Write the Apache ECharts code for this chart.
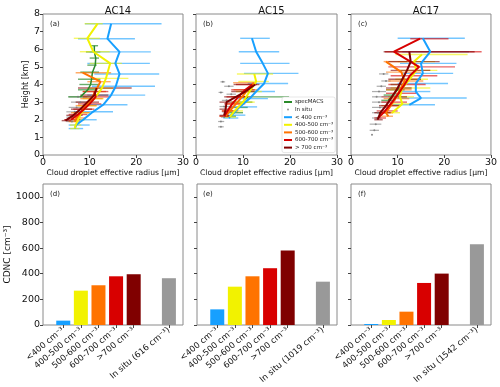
<!DOCTYPE html>
<html>
<head>
<meta charset="utf-8">
<script src="https://cdn.jsdelivr.net/npm/echarts@6/dist/echarts.min.js"></script>
<style>
  html, body { margin: 0; padding: 0; background: #fff; }
  #chart { width: 500px; height: 387px; }
</style>
</head>
<body>
<div id="chart"></div>
<script>
// profile rows: [effective radius, height, lower bar end, upper bar end]
const ac14Green = [[11.0,6.2,10.1,11.8],[11.0,5.85,9.2,12.3],[11.3,5.5,10.0,12.0],[11.2,5.1,9.5,11.5],[10.6,4.7,8.0,12.0],[10.4,4.3,7.5,12.3],[10.2,4.0,7.8,11.8],[9.6,3.7,7.5,11.5],[8.0,3.3,5.4,10.5]];
const ac14Insitu = [[7.5,3.3,5.5,9.5],[8.0,3.0,6.0,10.0],[7.2,2.7,5.5,9.0],[6.8,2.45,5.0,8.5],[6.5,2.15,5.0,8.0],[6.2,1.9,5.0,7.5]];
const ac14Lt400 = [[14.6,7.45,9.0,25.4],[13.8,6.6,7.5,19.7],[16.4,5.85,10.0,23.1],[15.5,5.2,9.5,22.9],[16.4,4.6,11.0,24.9],[15.6,3.9,10.5,24.0],[14.6,3.4,9.5,21.9],[12.9,2.85,8.5,18.1],[10.7,2.45,7.0,15.0],[8.6,2.0,6.0,11.5],[7.1,1.7,5.5,10.0],[6.8,1.5,5.5,8.6]];
const ac14C400 = [[11.7,7.45,8.9,12.8],[9.5,6.62,6.6,12.2],[10.8,5.86,7.9,14.3],[14.4,5.2,10.0,16.9],[13.5,4.35,10.5,18.3],[12.6,3.78,9.5,15.0],[11.0,3.2,8.5,13.0],[9.5,2.8,7.5,11.5],[8.2,2.4,6.5,10.0],[7.5,2.0,6.0,9.0],[7.0,1.7,5.8,8.2],[6.8,1.5,5.8,7.8]];
const ac14C500 = [[8.5,4.67,7.0,14.6],[12.3,4.16,9.5,14.5],[11.2,3.6,8.5,13.5],[10.4,3.2,8.0,12.8],[9.2,2.8,7.0,11.5],[8.0,2.4,6.0,10.0],[7.2,2.1,5.5,9.0],[6.8,1.9,5.5,8.0]];
const ac14C600 = [[11.0,3.6,8.5,14.0],[11.3,3.3,8.5,14.5],[10.0,2.9,7.5,12.5],[8.8,2.6,6.5,11.0],[7.5,2.3,5.5,9.5],[6.0,2.0,4.5,8.0]];
const ac14Gt700 = [[11.5,3.8,7.5,19.0],[11.0,3.4,8.0,14.0],[9.5,3.0,7.0,12.0],[8.0,2.6,6.0,10.5],[6.5,2.25,5.0,8.5],[4.8,1.95,4.0,6.0]];

const ac15Green = [[11.0,3.3,8.0,19.8],[10.0,3.0,8.0,12.0],[9.0,2.7,7.0,11.0],[8.0,2.4,6.5,10.0],[7.2,2.2,6.0,8.5]];
const ac15Insitu = [[5.7,4.15,5.2,6.2],[7.0,3.9,6.0,8.0],[5.3,3.55,4.8,5.8],[7.5,3.45,6.5,8.5],[6.5,3.1,5.5,7.5],[6.0,2.75,5.0,7.0],[6.3,2.45,5.5,7.2],[6.0,2.15,5.3,6.8],[5.3,1.9,4.7,6.0],[5.3,1.6,4.7,5.9]];
const ac15Lt400 = [[11.9,6.62,9.4,15.7],[12.8,5.86,9.1,17.7],[14.2,5.2,9.4,19.9],[15.3,4.63,10.2,21.8],[14.5,4.06,11.0,19.6],[12.8,3.6,9.5,16.8],[11.4,3.2,8.5,15.3],[9.3,2.73,7.0,13.0],[7.6,2.26,6.0,10.5],[7.0,2.1,5.8,9.0]];
const ac15C400 = [[12.4,4.6,8.7,16.4],[12.8,4.17,9.0,15.5],[11.4,3.6,8.5,14.0],[10.0,3.0,7.5,12.5],[8.2,2.5,6.5,10.0],[7.2,2.15,6.0,8.5]];
const ac15C500 = [[12.3,4.1,7.9,12.8],[11.0,3.7,8.0,13.0],[9.8,3.3,7.5,12.0],[8.5,2.9,6.5,10.5],[7.2,2.5,5.5,9.0],[6.3,2.2,5.0,7.5]];
const ac15C600 = [[12.0,4.0,8.5,13.0],[10.5,3.7,7.5,12.5],[9.0,3.3,6.5,11.0],[7.7,2.9,6.0,9.5],[6.7,2.5,5.5,8.0],[6.0,2.2,5.0,7.0]];
const ac15Gt700 = [[12.6,4.0,8.0,13.5],[10.5,3.6,7.5,12.5],[8.5,3.3,6.0,10.5],[6.5,3.0,5.0,8.0],[6.3,2.6,5.0,7.5],[6.0,2.25,5.0,7.0]];

const ac17Green = [[10.4,4.0,8.5,11.0],[10.0,3.7,7.5,11.5],[9.0,3.4,7.0,10.5],[8.0,3.1,6.5,9.5]];
const ac17Insitu = [[7.0,4.6,6.0,8.0],[7.5,4.2,6.5,8.5],[6.5,3.9,5.5,7.5],[6.0,3.6,4.5,7.5],[5.5,3.3,4.5,6.5],[6.0,3.0,4.5,8.0],[6.2,2.7,4.5,8.0],[5.8,2.4,4.5,7.0],[5.5,2.1,4.5,6.5],[5.3,1.75,4.0,6.5],[5.0,1.4,4.0,6.0],[4.5,1.15,4.4,4.6]];
const ac17Lt400 = [[15.4,6.62,10.0,24.4],[17.0,5.86,11.0,25.3],[15.0,5.2,10.5,22.6],[15.4,4.63,11.0,21.9],[13.9,4.06,10.0,20.8],[13.9,3.6,10.5,17.0],[15.0,3.23,10.0,24.8],[12.5,2.85,9.0,18.0]];
const ac17C400 = [[15.2,5.7,9.5,25.0],[13.5,5.3,10.0,18.0],[14.0,4.8,10.5,18.5],[12.6,4.3,9.5,16.5],[11.0,3.8,8.5,17.0],[10.5,3.3,8.0,13.5],[11.0,2.9,8.5,13.0],[8.8,2.4,7.0,10.5]];
const ac17C500 = [[7.5,5.3,7.0,12.0],[10.8,4.7,7.5,15.0],[11.5,4.2,8.0,15.5],[10.5,3.7,7.5,13.0],[9.5,3.2,7.0,12.5],[8.5,2.8,6.5,10.5],[7.5,2.4,6.0,9.0],[8.0,2.2,6.5,9.0]];
const ac17C600 = [[14.8,6.6,12.7,20.9],[9.2,5.86,7.3,28.0],[14.6,5.0,8.0,22.3],[12.6,4.5,8.5,18.5],[11.5,4.0,8.0,16.0],[10.2,3.5,7.5,14.0],[8.8,3.0,6.5,12.0],[7.3,2.5,5.5,10.0],[5.8,2.1,5.0,7.5]];
const ac17Gt700 = [[12.5,5.86,7.0,26.5],[12.8,5.3,8.0,19.0],[12.0,4.8,8.5,17.0],[11.0,4.3,8.0,15.0],[10.0,3.8,7.5,13.0],[8.8,3.3,6.5,12.0],[7.5,2.8,6.0,10.5],[6.3,2.4,5.0,8.5],[5.7,2.0,5.0,6.8]];

// mean CDNC per class, last value is in situ
const cdncAC14 = [34, 268, 310, 380, 396, 365];
const cdncAC15 = [122, 299, 380, 443, 581, 338];
const cdncAC17 = [8, 39, 104, 328, 401, 630];
const barPositions = [0, 1, 2, 3, 4, 6];
const barLabels = ['<400 cm⁻³', '400-500 cm⁻³', '500-600 cm⁻³', '600-700 cm⁻³', '>700 cm⁻³'];
const insituLabels = ['In situ (616 cm⁻³)', 'In situ (1019 cm⁻³)', 'In situ (1542 cm⁻³)'];
const cdncTicks = [0, 200, 400, 600, 800, 1000];

const classNames = ['< 400 cm⁻³', '400-500 cm⁻³', '500-600 cm⁻³', '600-700 cm⁻³', '> 700 cm⁻³'];
const classColors = ['#17a0ff', '#f2f200', '#ff7300', '#d80000', '#800000'];
const greenColor = '#2a8a2a', grayColor = '#999999';

const panels = [
  { title: 'AC14', tags: ['(a)', '(d)'], left: 43, width: 140, green: ac14Green, insitu: ac14Insitu,
    classes: [ac14Lt400, ac14C400, ac14C500, ac14C600, ac14Gt700], cdnc: cdncAC14 },
  { title: 'AC15', tags: ['(b)', '(e)'], left: 196, width: 141, green: ac15Green, insitu: ac15Insitu,
    classes: [ac15Lt400, ac15C400, ac15C500, ac15C600, ac15Gt700], cdnc: cdncAC15 },
  { title: 'AC17', tags: ['(c)', '(f)'], left: 351, width: 140, green: ac17Green, insitu: ac17Insitu,
    classes: [ac17Lt400, ac17C400, ac17C500, ac17C600, ac17Gt700], cdnc: cdncAC17 }
];

const font = 'DejaVu Sans';

function errSeries(idx, rows, color, width, opacity) {
  return {
    type: 'custom', xAxisIndex: idx, yAxisIndex: idx, silent: true,
    data: rows,
    encode: { x: [0, 2, 3], y: 1 },
    renderItem: function (params, api) {
      let h = api.value(1),
        a = api.coord([api.value(2), h]),
        b = api.coord([api.value(3), h]);
      return {
        type: 'line',
        shape: { x1: a[0], y1: a[1], x2: b[0], y2: b[1] },
        style: { stroke: color, lineWidth: width, opacity: opacity }
      };
    }
  };
}

function lineSeries(idx, rows, name, color, width) {
  return {
    type: 'line', name: name, xAxisIndex: idx, yAxisIndex: idx,
    data: rows.map(r => [r[0], r[1]]),
    symbol: 'none', showSymbol: false,
    lineStyle: { color: color, width: width },
    itemStyle: { color: color },
    z: 3
  };
}

let grids = [], xAxes = [], yAxes = [], series = [], titles = [];

panels.forEach((p, i) => {
  grids.push({ left: p.left, top: 14, width: p.width, height: 141, show: true, borderColor: '#8a8a8a', borderWidth: 1 });
  xAxes.push({
    gridIndex: i, type: 'value', min: 0, max: 30, interval: 10,
    name: 'Cloud droplet effective radius [μm]', nameLocation: 'middle', nameGap: 14,
    nameTextStyle: { fontFamily: font, fontSize: 7.6, color: '#111' },
    axisLine: { show: false, onZero: false }, splitLine: { show: false },
    axisTick: { length: 3, lineStyle: { color: '#444' } },
    axisLabel: { fontFamily: font, fontSize: 9.5, color: '#111', margin: 3 }
  });
  yAxes.push({
    gridIndex: i, type: 'value', min: 0, max: 8, interval: 1,
    name: i === 0 ? 'Height [km]' : '', nameLocation: 'middle', nameGap: 12,
    nameTextStyle: { fontFamily: font, fontSize: 8, color: '#111' },
    axisLine: { show: false, onZero: false }, splitLine: { show: false },
    axisTick: { length: 3, lineStyle: { color: '#444' } },
    axisLabel: { show: i === 0, fontFamily: font, fontSize: 9.5, color: '#111', margin: 3 }
  });
  titles.push({ text: p.title, left: p.left + p.width / 2, top: 1, textAlign: 'center',
    textStyle: { fontFamily: font, fontSize: 10, fontWeight: 'normal', color: '#111' } });
  titles.push({ text: p.tags[0], left: p.left + 2, top: 16,
    textStyle: { fontFamily: font, fontSize: 7, fontWeight: 'normal', color: '#111' } });

  series.push(errSeries(i, p.insitu, grayColor, 1.2, 0.8));
  series.push({
    type: 'scatter', name: 'In situ', xAxisIndex: i, yAxisIndex: i,
    data: p.insitu.map(r => [r[0], r[1]]), symbolSize: 2, itemStyle: { color: '#777' }
  });
  series.push(errSeries(i, p.green, greenColor, 1.4, 0.7));
  series.push(lineSeries(i, p.green, 'specMACS', greenColor, 1.5));
  p.classes.forEach((rows, k) => {
    series.push(errSeries(i, rows, classColors[k], 1.4, 0.6));
    series.push(lineSeries(i, rows, classNames[k], classColors[k], 2));
  });
});

panels.forEach((p, i) => {
  let g = 3 + i;
  let labels = barLabels.concat([insituLabels[i]]);
  grids.push({ left: p.left + (i === 1 ? 1 : 0), top: 184, width: 140, height: 141, show: true, borderColor: '#8a8a8a', borderWidth: 1 });
  xAxes.push({
    gridIndex: g, type: 'value', min: -1.15, max: 6.8,
    axisLine: { show: false, onZero: false }, splitLine: { show: false },
    axisTick: { customValues: barPositions, length: 3, lineStyle: { color: '#444' } },
    axisLabel: {
      customValues: barPositions, rotate: 40, fontFamily: font, fontSize: 8.5, color: '#111', margin: 4,
      formatter: v => labels[barPositions.indexOf(v)]
    }
  });
  yAxes.push({
    gridIndex: g, type: 'value', min: 0, max: 1100,
    name: i === 0 ? 'CDNC [cm⁻³]' : '', nameLocation: 'middle', nameGap: 27,
    nameTextStyle: { fontFamily: font, fontSize: 9, color: '#111' },
    axisLine: { show: false, onZero: false }, splitLine: { show: false },
    axisTick: { customValues: cdncTicks, length: 3, lineStyle: { color: '#444' } },
    axisLabel: { show: i === 0, customValues: cdncTicks, fontFamily: font, fontSize: 9.5, color: '#111', margin: 3,
      formatter: v => String(v) }
  });
  titles.push({ text: p.tags[1], left: p.left + 2, top: 186,
    textStyle: { fontFamily: font, fontSize: 7, fontWeight: 'normal', color: '#111' } });
  series.push({
    type: 'bar', name: 'CDNC ' + p.title, xAxisIndex: g, yAxisIndex: g, barWidth: 14,
    data: barPositions.map((x, k) => ({
      value: [x, p.cdnc[k]],
      itemStyle: { color: k < 5 ? classColors[k] : grayColor }
    }))
  });
});

let myChart = echarts.init(document.getElementById('chart')),
  option;
option = {
  animation: false,
  backgroundColor: '#fff',
  title: titles,
  grid: grids,
  xAxis: xAxes,
  yAxis: yAxes,
  legend: {
    orient: 'vertical', left: 282, top: 97,
    data: [
      { name: 'specMACS', icon: 'rect' },
      { name: 'In situ', icon: 'circle' },
      { name: classNames[0], icon: 'rect' },
      { name: classNames[1], icon: 'rect' },
      { name: classNames[2], icon: 'rect' },
      { name: classNames[3], icon: 'rect' },
      { name: classNames[4], icon: 'rect' }
    ],
    itemWidth: 8, itemHeight: 2, itemGap: 1.6, itemStyle: { borderWidth: 0 },
    padding: [2, 2], backgroundColor: '#fff', borderColor: '#ccc', borderWidth: 0.5, borderRadius: 2,
    textStyle: { fontFamily: font, fontSize: 5.5, lineHeight: 6, color: '#222', padding: [0, 0, 0, -2] },
    selectedMode: false
  },
  series: series
};

if (option && typeof option === 'object') myChart.setOption(option);
window.addEventListener('resize', function (event) {
  myChart.resize();
});
</script>
</body>
</html>
